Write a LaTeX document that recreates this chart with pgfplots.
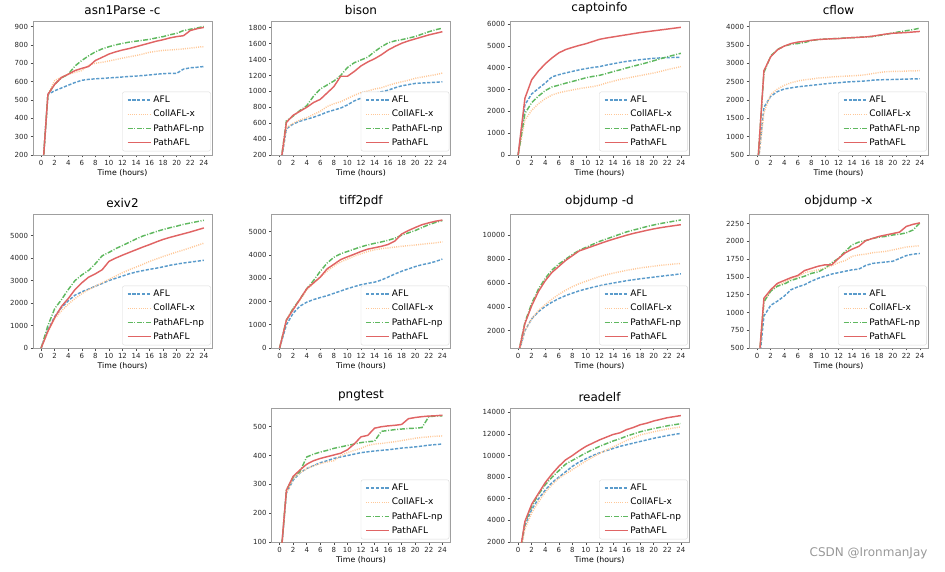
\documentclass[border=0pt]{standalone}
\usepackage{pgfplots}
\usepackage{pgfplotstable}
\pgfplotsset{compat=1.18}
\usepackage{fontspec}
\setmainfont{DejaVu Sans}
\definecolor{aflc}{HTML}{5A9BCB}
\definecolor{collc}{HTML}{FFC898}
\definecolor{npc}{HTML}{5FB85F}
\definecolor{pathc}{HTML}{E06464}
\tikzset{
 aflstyle/.style={draw=aflc, line width=1.45pt, dash pattern=on 3.2pt off 1.6pt},
 collstyle/.style={draw=collc, line width=1.45pt, dash pattern=on 1pt off 1.2pt},
 npstyle/.style={draw=npc, line width=1.45pt, dash pattern=on 5pt off 1.6pt on 1pt off 1.6pt},
 pathstyle/.style={draw=pathc, line width=1.45pt, solid}
}
\pgfplotsset{
 legend image code/.code={\draw[#1] (0pt,0pt) -- (23pt,0pt);},
 r1/.style={legend style={yshift=1pt}},
 pa/.style={
  width=179pt, height=134pt, scale only axis,
  anchor=north west,
  xmin=-1.2, xmax=25.2, xtick={0,2,...,24},
  xlabel={Time (hours)},
  tick pos=left, tick align=outside, major tick length=2.5pt,
  axis line style={gray!75, line width=0.8pt},
  tick style={gray!60!black, line width=0.6pt},
  ticklabel style={font=\fontsize{7}{8}\selectfont, text=black!85},
  xticklabel style={yshift=1pt},
  yticklabel style={xshift=1pt},
  label style={font=\fontsize{7.8}{9}\selectfont},
  xlabel style={yshift=3pt},
  title style={font=\fontsize{12}{14}\selectfont, yshift=-3pt},
  /pgf/number format/assume math mode=true,
  /pgf/number format/1000 sep={},
  scaled y ticks=false,
  no markers,
  legend cell align=left,
  legend style={at={(axis description cs:0.993,0.02)}, anchor=south east,
    draw=gray!30, rounded corners=2pt, fill=white,
    font=\fontsize{9}{10}\selectfont, inner xsep=4.5pt, inner ysep=2pt, row sep=1.5pt,
    nodes={font=\fontsize{9}{10}\selectfont, inner sep=2pt, text height=6.8pt, text depth=1.9pt}},
 }
}

\pgfplotstableread{
t afl coll np path
0 0 0 0 0
1 530 530 530 530
2 550 605 585 585
3 565 625 620 622
4 580 640 640 640
5 595 650 685 660
6 607 660 715 672
7 612 690 740 682
8 615 700 762 715
9 617 705 778 732
10 620 712 790 750
11 622 720 800 762
12 625 728 808 772
13 628 735 815 780
14 630 742 820 790
15 633 750 825 800
16 636 760 830 810
17 640 765 838 820
18 643 770 845 828
19 645 772 855 838
20 645 775 863 845
21 668 778 878 850
22 675 782 885 878
23 678 787 892 888
24 682 790 900 895
}\tA

\pgfplotstableread{
t afl coll np path
0 0 0 0 0
1 530 540 630 610
2 590 600 690 700
3 625 640 760 750
4 650 670 820 800
5 675 710 940 860
6 705 750 1030 900
7 740 810 1080 980
8 765 845 1130 1060
9 790 870 1200 1190
10 830 910 1300 1190
11 880 950 1360 1250
12 915 985 1395 1320
13 950 1005 1430 1370
14 975 1030 1500 1410
15 995 1045 1560 1460
16 1015 1075 1610 1520
17 1045 1100 1635 1565
18 1070 1120 1650 1605
19 1085 1140 1670 1635
20 1100 1165 1690 1660
21 1105 1180 1720 1685
22 1110 1195 1750 1710
23 1115 1210 1775 1730
24 1120 1230 1795 1750
}\tB

\pgfplotstableread{
t afl coll np path
0 0 0 0 0
1 2300 1600 1900 2600
2 2800 2050 2400 3450
3 3050 2350 2700 3850
4 3300 2580 2950 4180
5 3580 2750 3120 4450
6 3680 2850 3200 4680
7 3760 2920 3290 4830
8 3830 2980 3370 4930
9 3900 3040 3450 5020
10 3960 3090 3540 5100
11 4010 3130 3600 5200
12 4050 3200 3650 5300
13 4120 3300 3730 5360
14 4180 3380 3820 5410
15 4240 3460 3900 5460
16 4290 3520 3990 5510
17 4330 3580 4070 5560
18 4370 3640 4150 5610
19 4400 3700 4230 5650
20 4430 3760 4320 5690
21 4450 3830 4410 5730
22 4460 3910 4500 5770
23 4470 3980 4580 5810
24 4480 4050 4660 5850
}\tC

\pgfplotstableread{
t afl coll np path
0 0 0 0 0
1 1800 1650 2750 2800
2 2100 2150 3200 3180
3 2230 2300 3380 3370
4 2300 2400 3470 3470
5 2330 2470 3520 3540
6 2360 2520 3540 3580
7 2380 2550 3570 3600
8 2400 2570 3620 3630
9 2420 2600 3650 3650
10 2440 2610 3660 3660
11 2460 2630 3670 3670
12 2470 2640 3680 3675
13 2490 2650 3690 3690
14 2500 2660 3700 3700
15 2510 2670 3710 3710
16 2520 2690 3720 3720
17 2540 2720 3730 3740
18 2550 2750 3760 3770
19 2555 2770 3790 3800
20 2560 2780 3830 3820
21 2565 2780 3860 3830
22 2570 2790 3890 3840
23 2575 2795 3920 3855
24 2580 2800 3960 3870
}\tD

\pgfplotstableread{
t afl coll np path
0 0 0 0 0
1 800 700 1000 750
2 1400 1300 1750 1350
3 1800 1650 2150 1850
4 2100 1950 2600 2200
5 2350 2200 3000 2600
6 2500 2420 3250 2900
7 2620 2600 3450 3150
8 2750 2750 3750 3300
9 2870 2900 4100 3480
10 3000 3050 4250 3850
11 3100 3200 4420 4000
12 3200 3350 4560 4130
13 3300 3480 4700 4250
14 3380 3600 4850 4370
15 3440 3720 4980 4490
16 3500 3850 5080 4600
17 3550 3960 5180 4720
18 3610 4070 5270 4830
19 3680 4170 5350 4920
20 3730 4270 5420 5000
21 3780 4360 5500 5080
22 3820 4460 5560 5160
23 3860 4560 5620 5250
24 3900 4660 5680 5340
}\tE

\pgfplotstableread{
t afl coll np path
0 0 0 0 0
1 1000 1200 1200 1200
2 1500 1700 1700 1650
3 1800 2050 2100 2100
4 1970 2500 2550 2550
5 2080 2780 2900 2800
6 2170 3050 3300 3050
7 2250 3300 3650 3400
8 2350 3520 3900 3600
9 2450 3700 4050 3800
10 2550 3820 4150 3920
11 2640 3950 4250 4030
12 2720 4050 4350 4150
13 2780 4150 4430 4250
14 2830 4220 4500 4310
15 2920 4270 4560 4370
16 3050 4300 4630 4450
17 3180 4340 4720 4600
18 3300 4370 4850 4900
19 3400 4400 4950 5050
20 3500 4430 5050 5180
21 3580 4460 5180 5300
22 3640 4490 5300 5380
23 3720 4520 5400 5450
24 3820 4560 5480 5500
}\tF

\pgfplotstableread{
t afl coll np path
0 0 0 0 0
1 2000 2000 2700 2600
2 3000 3000 4300 4100
3 3600 3700 5500 5300
4 4050 4200 6400 6200
5 4400 4650 7100 6900
6 4700 5050 7600 7400
7 4950 5400 8000 7900
8 5150 5700 8400 8300
9 5350 5950 8750 8700
10 5500 6150 9000 8900
11 5650 6350 9250 9100
12 5780 6550 9500 9300
13 5900 6700 9700 9500
14 6000 6830 9900 9680
15 6100 6950 10100 9850
16 6200 7070 10300 10020
17 6280 7170 10450 10170
18 6360 7270 10600 10300
19 6430 7350 10750 10430
20 6500 7420 10880 10550
21 6570 7490 11000 10650
22 6640 7550 11100 10740
23 6700 7600 11200 10820
24 6780 7650 11300 10900
}\tG

\pgfplotstableread{
t afl coll np path
0 0 0 0 0
1 950 1150 1150 1200
2 1100 1300 1300 1320
3 1160 1380 1370 1410
4 1230 1420 1400 1450
5 1320 1470 1450 1490
6 1360 1500 1480 1520
7 1390 1560 1510 1590
8 1440 1580 1550 1620
9 1480 1600 1570 1650
10 1510 1620 1620 1670
11 1540 1660 1700 1670
12 1560 1700 1760 1760
13 1580 1730 1860 1840
14 1600 1790 1950 1890
15 1610 1810 1990 1930
16 1660 1820 2010 2010
17 1690 1840 2040 2040
18 1700 1850 2060 2070
19 1710 1860 2070 2090
20 1720 1880 2090 2110
21 1760 1900 2100 2130
22 1800 1920 2120 2210
23 1820 1930 2160 2240
24 1830 1940 2260 2260
}\tH

\pgfplotstableread{
t afl coll np path
0 0 0 0 0
1 270 270 280 280
2 315 320 325 328
3 340 340 345 350
4 355 355 395 370
5 365 365 405 382
6 375 372 412 390
7 382 378 418 396
8 390 382 425 402
9 395 400 430 408
10 400 410 435 420
11 405 418 440 440
12 410 425 445 465
13 413 435 448 470
14 416 440 450 495
15 418 442 484 500
16 420 445 487 503
17 423 448 490 505
18 426 452 492 508
19 428 456 494 528
20 430 460 495 532
21 433 463 497 535
22 436 465 535 537
23 438 467 537 538
24 440 468 538 540
}\tI

\pgfplotstableread{
t afl coll np path
0 0 0 0 0
1 3500 3200 3800 3900
2 5000 4700 5300 5500
3 6000 5700 6400 6500
4 6800 6600 7300 7500
5 7500 7300 8000 8300
6 8000 7900 8600 9000
7 8500 8300 9200 9600
8 9000 8700 9550 10000
9 9400 9100 9900 10450
10 9700 9500 10250 10850
11 10000 9850 10550 11150
12 10250 10200 10850 11450
13 10450 10500 11100 11700
14 10650 10800 11350 11950
15 10850 11100 11550 12100
16 11000 11400 11800 12400
17 11150 11650 12000 12600
18 11300 11900 12200 12850
19 11450 12050 12350 13000
20 11600 12200 12500 13200
21 11720 12330 12620 13350
22 11850 12450 12750 13500
23 11950 12550 12850 13600
24 12050 12650 12950 13700
}\tJ

\newcommand{\fourplots}[1]{%
 \addplot[aflstyle] table[x=t,y=afl]{#1};
 \addlegendentry{AFL}
 \addplot[collstyle] table[x=t,y=coll]{#1};
 \addlegendentry{CollAFL-x}
 \addplot[npstyle] table[x=t,y=np]{#1};
 \addlegendentry{PathAFL-np}
 \addplot[pathstyle] table[x=t,y=path]{#1};
 \addlegendentry{PathAFL}}

\begin{document}
\begin{tikzpicture}
\useasboundingbox (0,0) rectangle (945pt,571pt);

\begin{axis}[pa, r1, at={(33pt,550pt)}, title={asn1Parse -c}, ymin=200, ymax=930, ytick={200,300,...,900}]
\fourplots{\tA}
\end{axis}
\begin{axis}[pa, r1, at={(271.5pt,550pt)}, title={bison}, ymin=200, ymax=1885, ytick={200,400,...,1800}]
\fourplots{\tB}
\end{axis}
\begin{axis}[pa, r1, at={(510pt,550pt)}, title={captoinfo}, ymin=0, ymax=6140, ytick={0,1000,...,6000}]
\fourplots{\tC}
\end{axis}
\begin{axis}[pa, r1, at={(749pt,550pt)}, title={cflow}, ymin=500, ymax=4155, ytick={500,1000,...,4000}]
\fourplots{\tD}
\end{axis}

\begin{axis}[pa, at={(33pt,357pt)}, title={exiv2}, ymin=0, ymax=5960, ytick={0,1000,...,5000}]
\fourplots{\tE}
\end{axis}
\begin{axis}[pa, at={(271.5pt,357pt)}, title={tiff2pdf}, ymin=0, ymax=5760, ytick={0,1000,...,5000}]
\fourplots{\tF}
\end{axis}
\begin{axis}[pa, at={(510pt,357pt)}, title={objdump -d}, ymin=550, ymax=11800, ytick={2000,4000,...,10000}]
\fourplots{\tG}
\end{axis}
\begin{axis}[pa, at={(749pt,357pt)}, title={objdump -x}, ymin=500, ymax=2385, ytick={500,750,...,2250}]
\fourplots{\tH}
\end{axis}

\begin{axis}[pa, at={(271.5pt,163pt)}, title={pngtest}, ymin=100, ymax=565, ytick={100,200,...,500}]
\fourplots{\tI}
\end{axis}
\begin{axis}[pa, at={(510pt,163pt)}, title={readelf}, ymin=2000, ymax=14400, ytick={2000,4000,...,14000}]
\fourplots{\tJ}
\end{axis}

\node[anchor=east, text=gray!80, font=\fontsize{12}{14}\selectfont] at (931pt,18pt) {CSDN @IronmanJay};
\end{tikzpicture}
\end{document}
